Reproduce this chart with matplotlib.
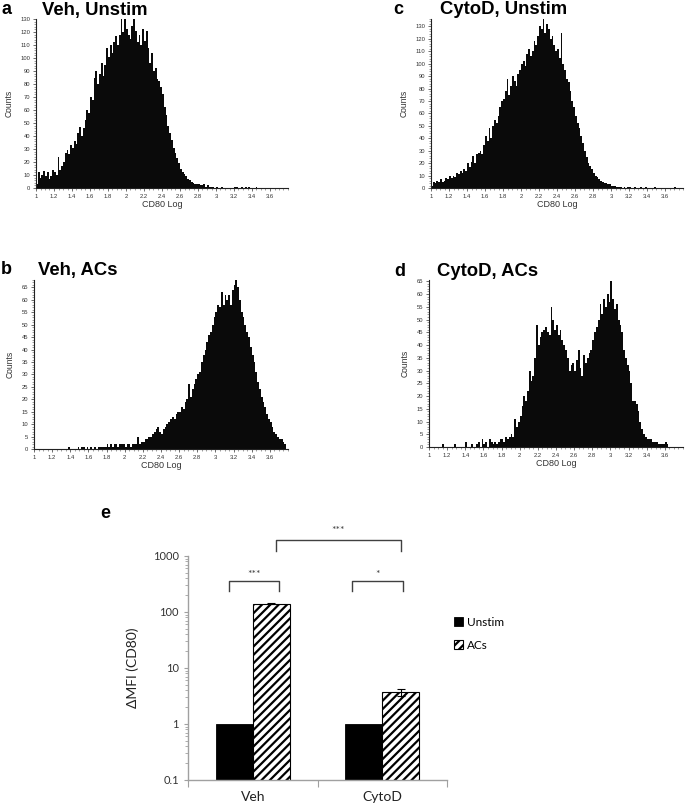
import numpy as np
import matplotlib
matplotlib.use("Agg")
import matplotlib.pyplot as plt
from matplotlib.ticker import MultipleLocator, LogLocator, NullFormatter

plt.rcParams['hatch.linewidth'] = 1.6

# histogram bins: CD80 log, 0.02 wide starting at 1.00
bin_start = 1.0
bin_width = 0.02

veh_unstim = [
    3, 12, 8, 10, 13, 9, 12, 7, 9, 14,
    12, 10, 24, 14, 17, 20, 27, 29, 26, 33,
    31, 36, 34, 42, 47, 40, 46, 52, 60, 58,
    70, 68, 85, 90, 80, 88, 96, 86, 95, 108,
    101, 110, 104, 112, 117, 110, 118, 130, 120, 130,
    122, 118, 115, 125, 130, 121, 112, 118, 110, 122,
    113, 121, 108, 96, 104, 90, 92, 84, 82, 78,
    72, 62, 56, 48, 42, 37, 31, 27, 23, 19,
    15, 12, 11, 9, 7, 6, 5, 4, 3, 3,
    3, 2, 2, 3, 1, 2, 1, 1, 1, 0,
    1, 0, 0, 1, 0, 0, 0, 0, 0, 0,
    1, 1, 0, 0, 1, 0, 1, 0, 1, 0,
    0, 0, 1, 0, 0, 0, 0, 0, 0, 0,
    0, 0, 0, 0, 0, 0, 0, 0, 0, 0,
]

cytod_unstim = [
    2, 5, 4, 6, 5, 7, 5, 6, 8, 7,
    10, 8, 10, 9, 12, 11, 14, 12, 15, 14,
    20, 17, 21, 26, 20, 27, 28, 30, 27, 35,
    42, 38, 48, 40, 50, 55, 52, 58, 65, 70,
    72, 78, 88, 75, 82, 90, 86, 82, 92, 95,
    100, 102, 98, 108, 112, 106, 110, 118, 115, 122,
    130, 128, 136, 125, 132, 128, 120, 122, 115, 110,
    112, 105, 125, 100, 95, 88, 85, 78, 70, 65,
    58, 52, 48, 42, 36, 30, 25, 20, 18, 15,
    12, 10, 9, 7, 6, 5, 4, 4, 3, 3,
    2, 2, 2, 1, 1, 1, 0, 1, 0, 1,
    1, 0, 0, 1, 0, 0, 1, 0, 0, 1,
    0, 0, 0, 0, 1, 0, 0, 0, 0, 0,
    0, 0, 0, 0, 0, 1, 0, 0, 0, 0,
]

veh_acs = [
    0, 0, 0, 0, 0, 0, 0, 0, 0, 0,
    0, 0, 0, 0, 0, 0, 0, 0, 0, 1,
    0, 0, 0, 0, 1, 0, 1, 1, 0, 1,
    0, 1, 0, 1, 0, 1, 1, 1, 1, 1,
    2, 1, 2, 1, 2, 2, 1, 2, 2, 2,
    1, 2, 2, 1, 2, 2, 2, 5, 2, 3,
    3, 4, 4, 5, 5, 6, 7, 8, 9, 7,
    6, 8, 9, 10, 11, 12, 13, 12, 14, 15,
    15, 17, 16, 19, 20, 26, 21, 24, 26, 28,
    30, 31, 35, 38, 40, 43, 46, 47, 50, 53,
    55, 58, 57, 63, 58, 62, 60, 62, 58, 64,
    66, 68, 65, 60, 55, 53, 50, 47, 45, 41,
    38, 35, 31, 27, 24, 21, 19, 17, 14, 12,
    11, 9, 7, 6, 5, 4, 4, 3, 2, 0,
]

cytod_acs = [
    0, 0, 0, 0, 0, 0, 0, 1, 0, 0,
    0, 0, 0, 0, 1, 0, 0, 0, 0, 0,
    2, 0, 0, 1, 0, 0, 1, 2, 0, 3,
    1, 2, 0, 3, 2, 1, 2, 1, 2, 3,
    3, 2, 4, 3, 4, 5, 4, 11, 8, 10,
    12, 16, 20, 18, 22, 30, 26, 28, 35, 48,
    40, 43, 45, 46, 47, 45, 44, 55, 50, 46,
    48, 44, 46, 42, 40, 38, 35, 30, 32, 33,
    30, 34, 38, 31, 28, 36, 33, 35, 37, 38,
    42, 45, 47, 50, 56, 52, 58, 55, 60, 57,
    65, 58, 54, 56, 50, 48, 45, 38, 35, 32,
    30, 25, 18, 18, 17, 14, 10, 7, 5, 4,
    3, 3, 3, 2, 2, 2, 1, 1, 1, 1,
    2, 1, 0, 0, 0, 0, 0, 0, 0, 0,
]

# bar chart (panel e)
groups = ['Veh', 'CytoD']
mfi_unstim = [1.0, 1.0]
mfi_acs = [140.0, 3.7]
mfi_acs_err = [3.0, 0.6]

fig = plt.figure(figsize=(6.85, 8.09), dpi=100)

W, H = 685.0, 809.0


def ax_px(left, top, right, bottom):
    return fig.add_axes([left / W, 1 - bottom / H, (right - left) / W, (bottom - top) / H])


hist_font = 'Liberation Sans'


def draw_hist(ax, counts, ymax, ystep, letter, title, lx, tx, ty):
    edges = bin_start + bin_width * np.arange(len(counts))
    ax.bar(edges, counts, width=bin_width, align='edge', color='#0a0a0a', linewidth=0)
    ax.set_xlim(1.0, 3.8)
    ax.set_ylim(0, ymax)
    ax.xaxis.set_minor_locator(MultipleLocator(0.05))
    ax.yaxis.set_major_locator(MultipleLocator(ystep))
    ax.yaxis.set_minor_locator(MultipleLocator(ystep / 5))
    ax.set_xticks(np.arange(1.0, 3.61, 0.2))
    ax.set_xticklabels(['1', '1.2', '1.4', '1.6', '1.8', '2', '2.2', '2.4',
                        '2.6', '2.8', '3', '3.2', '3.4', '3.6'])
    for s in ['top', 'right']:
        ax.spines[s].set_visible(False)
    for s in ['left', 'bottom']:
        ax.spines[s].set_linewidth(0.8)
        ax.spines[s].set_color('#222222')
    ax.tick_params(which='major', length=2.5, width=0.5, labelsize=4.2,
                   colors='#333333', pad=1.5)
    ax.tick_params(which='minor', length=1.2, width=0.4, colors='#555555')
    for lab in ax.get_xticklabels() + ax.get_yticklabels():
        lab.set_family(hist_font)
    ax.set_xlabel('CD80 Log', fontsize=6.5, family=hist_font, color='#333333', labelpad=1)
    ax.set_ylabel('Counts', fontsize=6.2, family=hist_font, color='#333333', labelpad=5)
    fig.text(lx / W, 1 - ty / H, letter, fontsize=13, fontweight='bold',
             family=hist_font, va='center', ha='left')
    fig.text(tx / W, 1 - ty / H, title, fontsize=13.3, fontweight='bold',
             family=hist_font, va='center', ha='left')


ax_a = ax_px(36, 19, 288, 188)
draw_hist(ax_a, veh_unstim, 130, 10, 'a', 'Veh, Unstim', 1, 42, 10)

ax_c = ax_px(431, 19, 683, 188)
draw_hist(ax_c, cytod_unstim, 136, 10, 'c', 'CytoD, Unstim', 393, 440, 10)

ax_b = ax_px(34, 280, 288, 449)
draw_hist(ax_b, veh_acs, 68, 5, 'b', 'Veh, ACs', 1, 38, 270)

ax_d = ax_px(429, 280, 683, 447)
draw_hist(ax_d, cytod_acs, 65.5, 5, 'd', 'CytoD, ACs', 394, 437, 271)

# ---- panel e ----
efont = ['Lato', 'DejaVu Sans']
ax_e = ax_px(188, 556, 447, 780)
x = np.arange(len(groups)) + 0.5
bw = 0.286
ax_e.bar(x - bw / 2, mfi_unstim, width=bw, color='black', edgecolor='black',
         linewidth=0.6, label='Unstim')
ax_e.bar(x + bw / 2, mfi_acs, width=bw, color='white', edgecolor='black',
         hatch='////', linewidth=0.8, label='ACs')
ax_e.errorbar(x + bw / 2, mfi_acs, yerr=mfi_acs_err, fmt='none', ecolor='black',
              elinewidth=0.8, capsize=3, capthick=0.8)
ax_e.set_yscale('log')
ax_e.set_ylim(0.1, 1000)
ax_e.set_xlim(0, 2)
ax_e.set_yticks([0.1, 1, 10, 100, 1000])
ax_e.set_yticklabels(['0.1', '1', '10', '100', '1000'])
ax_e.yaxis.set_minor_locator(LogLocator(base=10, subs=np.arange(2, 10)))
ax_e.yaxis.set_minor_formatter(NullFormatter())
ax_e.set_xticks([0, 1, 2])
ax_e.set_xticklabels(['', '', ''])
ax_e.set_xticks(x, minor=True)
ax_e.set_xticklabels(groups, minor=True)
ax_e.tick_params(axis='x', which='major', length=5, width=0.8, color='#a0a0a0')
ax_e.tick_params(axis='x', which='minor', length=0, labelsize=10, pad=8, labelcolor='#222222')
ax_e.tick_params(axis='y', which='major', length=3, width=0.8, color='#a0a0a0',
                 labelsize=8, labelcolor='#333333')
ax_e.tick_params(axis='y', which='minor', length=2, width=0.6, color='#a0a0a0')
for lab in ax_e.get_xticklabels(minor=True) + ax_e.get_yticklabels():
    lab.set_family(efont)
for s in ['top', 'right']:
    ax_e.spines[s].set_visible(False)
for s in ['left', 'bottom']:
    ax_e.spines[s].set_color('#a0a0a0')
    ax_e.spines[s].set_linewidth(1.0)
ax_e.set_ylabel('\u0394MFI (CD80)', fontsize=10, family=efont, color='#222222', labelpad=10)

# significance brackets
bc = '#404040'
ax_e.plot([0.32, 0.32, 0.70, 0.70], [237, 357, 357, 237], color=bc, lw=1, clip_on=False)
ax_e.text(0.51, 470, '***', ha='center', va='center', fontsize=7.5, color=bc, family=efont)
ax_e.plot([1.27, 1.27, 1.66, 1.66], [237, 357, 357, 237], color=bc, lw=1, clip_on=False)
ax_e.text(1.465, 470, '*', ha='center', va='center', fontsize=7.5, color=bc, family=efont)
ax_e.plot([0.68, 0.68, 1.645, 1.645], [1230, 1940, 1940, 1230], color=bc, lw=1, clip_on=False)
ax_e.text(1.16, 2800, '***', ha='center', va='center', fontsize=7.5, color=bc, family=efont)

fig.legend(loc='upper left', bbox_to_anchor=(449 / W, 1 - 612 / H), frameon=False,
           prop={'family': efont, 'size': 8.5}, handlelength=0.8, handleheight=0.8,
           handletextpad=0.3, labelspacing=1.0, borderaxespad=0)

fig.text(100 / W, 1 - 513 / H, 'e', fontsize=13, fontweight='bold', family=hist_font,
         va='center', ha='left')

fig.savefig('out.png', dpi=100)
